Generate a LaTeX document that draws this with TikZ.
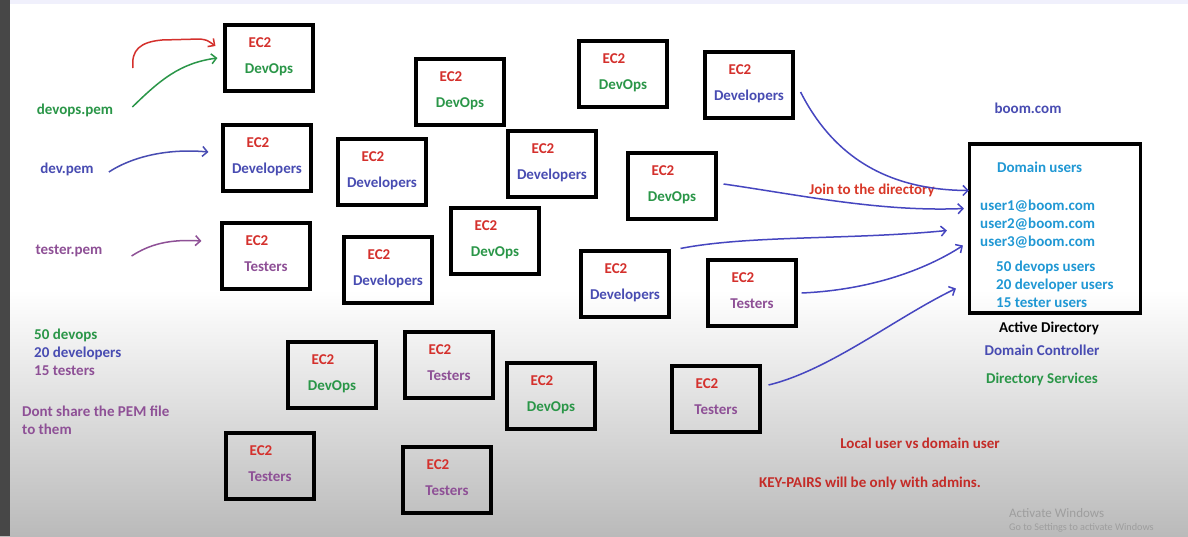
\documentclass[tikz,border=0pt]{standalone}
\usepackage{fontspec}
\setmainfont{Carlito}
\usepackage{tikz}
\usetikzlibrary{arrows.meta, positioning, calc}

\definecolor{ecred}{RGB}{212,48,44}
\definecolor{opsgreen}{RGB}{42,150,72}
\definecolor{devblue}{RGB}{72,76,178}
\definecolor{testpurple}{RGB}{142,80,150}
\definecolor{adcyan}{RGB}{32,152,212}
\definecolor{penblue}{RGB}{70,70,192}
\definecolor{notered}{RGB}{196,44,40}

\begin{document}
\begin{tikzpicture}[x=1pt, y=-1pt, font=\fontsize{15}{18}\selectfont\bfseries,
    ec2box/.style={draw, line width=3.1pt, minimum width=88pt, minimum height=66pt, inner sep=0pt},
    ectag/.style={text=ecred, inner sep=0pt, anchor=base},
    note/.style={inner sep=0pt, anchor=base west},
    pen/.style={line width=1.5pt, -{Straight Barb[length=5pt, width=10pt]}}
]
    % screen background
    \useasboundingbox (0,0) rectangle (1188,536);
    \fill[white] (0,0) rectangle (1188,536);
    \shade[top color=white, bottom color=black!27] (0,290) rectangle (1188,536);
    \fill[black!16!blue!6] (0,0) rectangle (1188,4);
    \fill[black!72] (0,0) rectangle (10,536);

    % EC2 instances
    \foreach \n/\x/\y/\role/\col in {
        b1/269/58/DevOps/opsgreen, b2/267/158/Developers/devblue, b3/266/256/Testers/testpurple,
        b4/460/92/DevOps/opsgreen, b5/382/172/Developers/devblue, b6/623/74/DevOps/opsgreen,
        b7/552/164/Developers/devblue, b8/495/241/DevOps/opsgreen, b9/388/270/Developers/devblue,
        b10/749/85/Developers/devblue, b11/672/186/DevOps/opsgreen, b12/625/284/Developers/devblue,
        b13/752/293/Testers/testpurple, b14/332/375/DevOps/opsgreen, b15/449/365/Testers/testpurple,
        b16/551/396/DevOps/opsgreen, b17/270/466/Testers/testpurple, b18/447/480/Testers/testpurple,
        b19/716/399/Testers/testpurple}
    {
        \node[ec2box] (\n) at (\x,\y) {};
        \node[ectag] at ([shift={(-9,-11)}]\n.center) {EC2};
        \node[inner sep=0pt, anchor=base, text=\col] at ([shift={(0,15)}]\n.center) {\role};
    }

    % key files
    \node[text=opsgreen, inner sep=1pt] (opspem) at (75,110) {devops.pem};
    \node[text=devblue, inner sep=1pt] (devpem) at (67,169) {dev.pem};
    \node[text=testpurple, inner sep=1pt] (testpem) at (69,251) {tester.pem};
    \coordinate (redtail) at (133,68);

    \draw[pen, ecred] (redtail) .. controls (131,50) and (140,42) .. (162,40)
        -- (200,39) .. controls (207,40) .. ([shift={(-8,-12)}]b1.west);
    \draw[pen, opsgreen] ([shift={(18,-3)}]opspem.east) .. controls (160,80) and (180,63) .. ([shift={(-6,0)}]b1.west);
    \draw[pen, devblue] ([shift={(14,3)}]devpem.east) .. controls (130,158) and (165,148) .. ([shift={(-13,-6)}]b2.west);
    \draw[pen, testpurple] ([shift={(28,5)}]testpem.east) .. controls (150,244) and (170,239) .. ([shift={(-19,-15)}]b3.west);

    % counts
    \node[note, text=opsgreen] (nops) at (34,339) {50 devops};
    \node[note, text=devblue] (ndev) at (34,357) {20 developers};
    \node[note, text=testpurple] (ntest) at (34,375) {15 testers};
    \node[note, text=testpurple] (dont) at (22,416) {Dont share the PEM file};
    \node[note, text=testpurple] (them) at (22,434) {to them};

    % directory
    \node[text=devblue] (boom) at (1028,108) {boom.com};
    \node[draw, line width=3.1pt, minimum width=171pt, minimum height=169pt, inner sep=0pt] (ad) at (1055,228.5) {};
    \node[note, text=adcyan] (dusers) at (997,172) {Domain users};
    \node[note, text=adcyan] (u1) at (980,210) {user1@boom.com};
    \node[note, text=adcyan] (u2) at (980,228) {user2@boom.com};
    \node[note, text=adcyan] (u3) at (980,246) {user3@boom.com};
    \node[note, text=adcyan] (c1) at (996,271) {50 devops users};
    \node[note, text=adcyan] (c2) at (996,289) {20 developer users};
    \node[note, text=adcyan] (c3) at (996,307) {15 tester users};
    \node[text=black] (adname) at (1049,328) {Active Directory};
    \node[text=devblue] (dc) at (1042,350) {Domain Controller};
    \node[text=opsgreen] (ds) at (1042,379) {Directory Services};

    % joining
    \node[text=ecred!90!orange] (join) at (872,190) {Join to the directory};
    \draw[pen, penblue] ([shift={(6,7)}]b10.east) .. controls (830,150) and (880,190) .. ([shift={(1,-38)}]ad.west);
    \draw[pen, penblue] ([shift={(6,-2)}]b11.east) .. controls (800,195) and (880,212) .. ([shift={(-4,-20)}]ad.west);
    \draw[pen, penblue] ([shift={(10,-1)}]b12.north east) .. controls (750,235) and (850,240) .. ([shift={(-21,2)}]ad.west);
    \draw[pen, penblue] ([shift={(4,0)}]b13.east) .. controls (870,290) and (925,270) .. ([shift={(-5,17)}]ad.west);
    \draw[pen, penblue] ([shift={(7,-14)}]b19.east) .. controls (830,370) and (895,318) .. ([shift={(-12,60)}]ad.west);

    % notes
    \node[text=notered] (local) at (920,443) {Local user vs domain user};
    \node[text=notered] (keys) at (870,483) {KEY-PAIRS will be only with admins.};

    % watermark
    \node[note, text=black!38, font=\fontsize{13}{15}\selectfont] (act) at (1009,517) {Activate Windows};
    \node[note, text=black!38, font=\fontsize{10.2}{12}\selectfont] (actgo) at (1009,530) {Go to Settings to activate Windows};
\end{tikzpicture}
\end{document}
